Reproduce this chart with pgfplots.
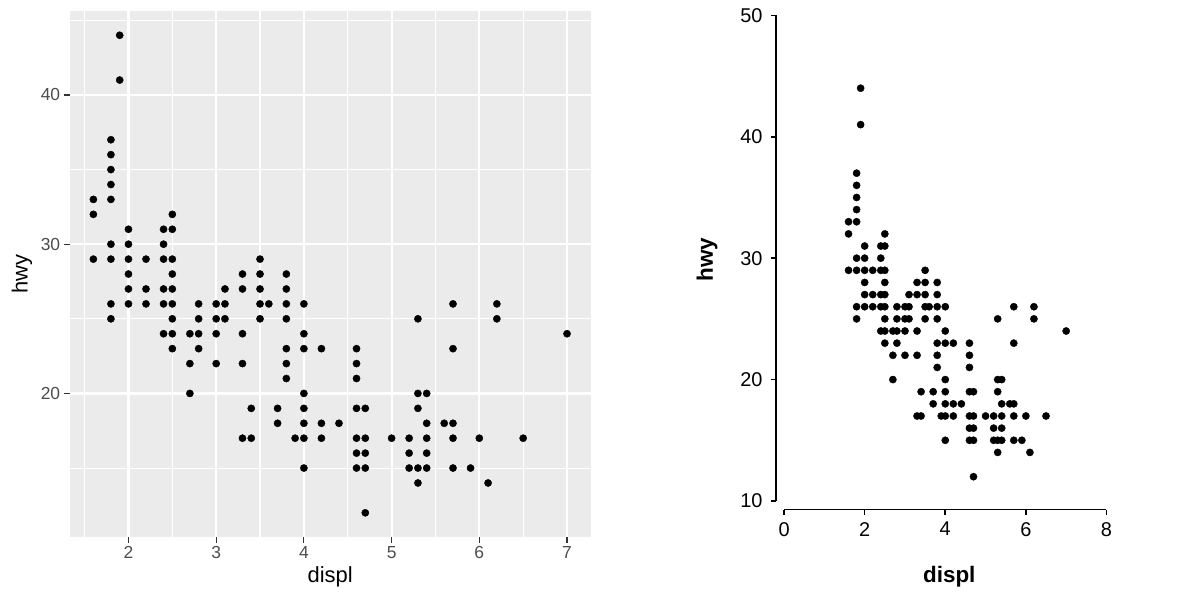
\documentclass[border=0pt]{standalone}
\usepackage{pgfplots}
\pgfplotsset{compat=1.18}
\usepackage{pgfplotstable}
\usepackage{fontspec}
\setmainfont{Liberation Sans}
\definecolor{panelgrey}{HTML}{EBEBEB}
\definecolor{tickgrey}{HTML}{333333}
\definecolor{labelgrey}{HTML}{4D4D4D}
\pgfplotstableread{
displ hwy
1.6 33
1.6 32
1.6 29
1.8 37
1.8 36
1.8 35
1.8 34
1.8 33
1.8 30
1.8 29
1.8 26
1.8 25
1.9 44
1.9 41
2.0 31
2.0 30
2.0 29
2.0 28
2.0 27
2.0 26
2.2 29
2.2 27
2.2 26
2.4 31
2.4 30
2.4 29
2.4 27
2.4 26
2.4 24
2.5 32
2.5 31
2.5 29
2.5 28
2.5 27
2.5 26
2.5 25
2.5 24
2.5 23
2.7 24
2.7 22
2.7 20
2.8 26
2.8 25
2.8 24
2.8 23
3.0 26
3.0 25
3.0 24
3.0 22
3.1 27
3.1 26
3.1 25
3.3 28
3.3 27
3.3 24
3.3 22
3.3 17
3.4 19
3.4 17
3.5 29
3.5 28
3.5 27
3.5 26
3.5 25
3.6 26
3.7 19
3.7 18
3.8 28
3.8 27
3.8 26
3.8 25
3.8 23
3.8 22
3.8 21
3.9 17
4.0 26
4.0 24
4.0 23
4.0 20
4.0 19
4.0 18
4.0 17
4.0 15
4.2 23
4.2 18
4.2 17
4.4 18
4.6 23
4.6 22
4.6 21
4.6 19
4.6 17
4.6 16
4.6 15
4.7 19
4.7 17
4.7 16
4.7 15
4.7 12
5.0 17
5.2 17
5.2 16
5.2 15
5.3 25
5.3 20
5.3 19
5.3 15
5.3 14
5.4 20
5.4 18
5.4 17
5.4 16
5.4 15
5.6 18
5.7 26
5.7 23
5.7 18
5.7 17
5.7 15
5.9 15
6.0 17
6.1 14
6.2 26
6.2 25
6.5 17
7.0 24
}\mpg
\begin{document}
\begin{tikzpicture}
\path[use as bounding box] (0,0) rectangle (1200bp,600bp);
% left panel: ggplot grey theme
\begin{axis}[
  anchor=south west, at={(69.7bp,63.3bp)},
  width=521bp, height=525.3bp, scale only axis,
  xmin=1.33, xmax=7.27, ymin=10.4, ymax=45.6,
  axis background/.style={fill=panelgrey},
  axis line style={draw=none},
  xtick={2,3,4,5,6,7}, ytick={20,30,40},
  minor xtick={1.5,2.5,3.5,4.5,5.5,6.5}, minor ytick={15,25,35,45},
  grid=both,
  major grid style={white, line width=2.2bp},
  minor grid style={white, line width=1.1bp},
  tick align=outside, tick pos=left,
  major tick length=6bp, minor tick length=0pt,
  every tick/.style={tickgrey, line width=1.1bp},
  ticklabel style={font=\fontsize{17.5}{17.5}\selectfont, text=labelgrey},
  /pgf/number format/assume math mode=true,
  xlabel={displ}, ylabel={hwy},
  label style={font=\fontsize{22}{22}\selectfont},
  xlabel style={at={(axis description cs:0.5,-0.076)}, anchor=center},
  ylabel style={at={(axis description cs:-0.0916,0.5)}, anchor=center},
]
\addplot[only marks, mark=*, mark size=3.6bp, black] table[x=displ, y=hwy] {\mpg};
\end{axis}
% right panel: classic theme with detached axes
\begin{axis}[
  anchor=south west, at={(776bp,90.4bp)},
  width=346.6bp, height=500.3bp, scale only axis,
  xmin=-0.2, xmax=8.4, ymin=9.29, ymax=50.5,
  axis x line*=bottom, axis y line*=left,
  axis line style={draw=none},
  xtick={0,2,4,6,8}, ytick={10,20,30,40,50},
  tick align=outside, major tick length=5bp,
  every tick/.style={black, line width=1.6bp},
  ticklabel style={font=\fontsize{20}{20}\selectfont, text=black},
  xticklabel style={yshift=-4bp},
  yticklabel style={xshift=-5bp},
  /pgf/number format/assume math mode=true,
  clip=false,
  xlabel={\bfseries displ}, ylabel={\bfseries hwy},
  label style={font=\fontsize{22.5}{22.5}\selectfont},
  xlabel style={at={(axis description cs:0.5,-0.134)}, anchor=center},
  ylabel style={at={(axis description cs:-0.199,0.5)}, anchor=center},
]
\draw[black, line width=1.6bp] (axis cs:0,9.29) -- (axis cs:8,9.29);
\draw[black, line width=1.6bp] (axis cs:-0.2,10) -- (axis cs:-0.2,50);
\addplot[only marks, mark=*, mark size=3.6bp, black] table[x=displ, y=hwy] {\mpg};
\end{axis}
\end{tikzpicture}
\end{document}
